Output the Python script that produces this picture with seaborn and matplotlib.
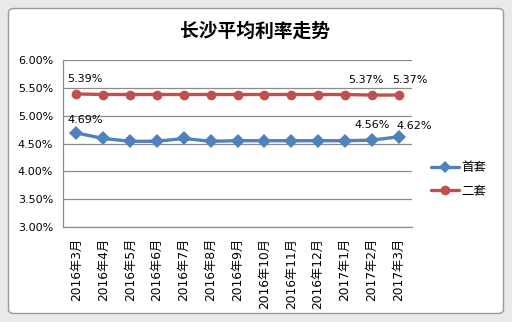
import matplotlib
matplotlib.use("Agg")
import matplotlib.pyplot as plt
from matplotlib.patches import FancyBboxPatch
from matplotlib.lines import Line2D
import seaborn as sns
import pandas as pd

months = ["2016年3月", "2016年4月", "2016年5月", "2016年6月", "2016年7月",
          "2016年8月", "2016年9月", "2016年10月", "2016年11月", "2016年12月",
          "2017年1月", "2017年2月", "2017年3月"]
first_home = [4.69, 4.59, 4.54, 4.54, 4.59, 4.54, 4.55, 4.55, 4.55, 4.55, 4.55, 4.56, 4.62]
second_home = [5.39, 5.38, 5.38, 5.38, 5.38, 5.38, 5.38, 5.38, 5.38, 5.38, 5.38, 5.37, 5.37]
y_ticks = [3.00, 3.50, 4.00, 4.50, 5.00, 5.50, 6.00]
title = "长沙平均利率走势"
series_names = ["首套", "二套"]

sns.set_style("white")
plt.rcParams["font.family"] = ["DejaVu Sans", "Noto Sans CJK SC"]
plt.rcParams["text.color"] = "black"
plt.rcParams["xtick.color"] = "black"
plt.rcParams["ytick.color"] = "black"

W, H = 512, 322
fig = plt.figure(figsize=(W / 100, H / 100), dpi=100)
fig.patch.set_facecolor("#e9e9e9")

# chart frame
frame = FancyBboxPatch((8.5 / W, 8.5 / H), (W - 17) / W, (H - 17) / H,
                       boxstyle="round,pad=0,rounding_size=0.012",
                       transform=fig.transFigure, facecolor="white",
                       edgecolor="#9a9a9a", linewidth=1.0, zorder=-10)
fig.patches.append(frame)

ax = fig.add_axes([63 / W, 1 - 227 / H, (412 - 63) / W, (227 - 60) / H])
ax.set_facecolor("none")
ax.set_zorder(2)

df = pd.DataFrame({
    "idx": list(range(len(months))) * 2,
    "rate": first_home + second_home,
    "series": [series_names[0]] * len(months) + [series_names[1]] * len(months),
})
blue, red = "#4f81bd", "#c0504d"
sns.lineplot(data=df, x="idx", y="rate", hue="series", style="series",
             markers={series_names[0]: "D", series_names[1]: "o"}, dashes=False,
             palette={series_names[0]: blue, series_names[1]: red},
             linewidth=2.4, markersize=7, markeredgewidth=0, ax=ax, legend=False,
             zorder=3)

ax.set_xlim(-0.5, len(months) - 0.5)
ax.set_ylim(y_ticks[0], y_ticks[-1])
ax.set_yticks(y_ticks)
ax.set_yticklabels([f"{v:.2f}%" for v in y_ticks], fontsize=8)
ax.yaxis.grid(True, color="#8c8c8c", linewidth=0.9)
ax.set_axisbelow(True)

ax.set_xticks(range(len(months)))
ax.set_xticklabels(months, rotation=90, fontsize=8.8)
ax.set_xticks([i - 0.5 for i in range(len(months) + 1)], minor=True)
ax.tick_params(axis="x", which="major", length=0, pad=8)
ax.tick_params(axis="x", which="minor", length=4, color="#8c8c8c", width=0.9)
ax.tick_params(axis="y", which="major", length=4, color="#8c8c8c", width=0.9,
               pad=3, labelcolor="black")
ax.set_xlabel("")
ax.set_ylabel("")
for s in ["top", "right"]:
    ax.spines[s].set_visible(False)
for s in ["left", "bottom"]:
    ax.spines[s].set_color("#8c8c8c")
    ax.spines[s].set_linewidth(0.9)

# data labels
def label(i, values, dx, dy):
    ax.annotate(f"{values[i]:.2f}%", (i, values[i]), xytext=(dx, dy),
                textcoords="offset points", ha="center", va="bottom", fontsize=8)

label(0, second_home, 6, 7)
label(11, second_home, -4, 7)
label(12, second_home, 8, 7)
label(0, first_home, 6, 6)
label(11, first_home, 0, 7)
label(12, first_home, 11, 4)

fig.text(255 / W, 1 - 31 / H, title, ha="center", va="center", fontsize=13.5,
         fontweight="bold", color="black", family=["Noto Sans CJK SC"])

# legend
handles = [Line2D([], [], color=blue, marker="D", linewidth=2.4, markersize=6, markeredgewidth=0),
           Line2D([], [], color=red, marker="o", linewidth=2.4, markersize=7, markeredgewidth=0)]
fig.legend(handles, series_names, loc="center left",
           bbox_to_anchor=(420 / W, 1 - 179 / H), frameon=False,
           prop={"family": ["Noto Sans CJK SC"], "size": 9},
           handlelength=2.2, handletextpad=0.2, labelspacing=0.8)

fig.savefig("out.png", dpi=100, facecolor=fig.get_facecolor())
